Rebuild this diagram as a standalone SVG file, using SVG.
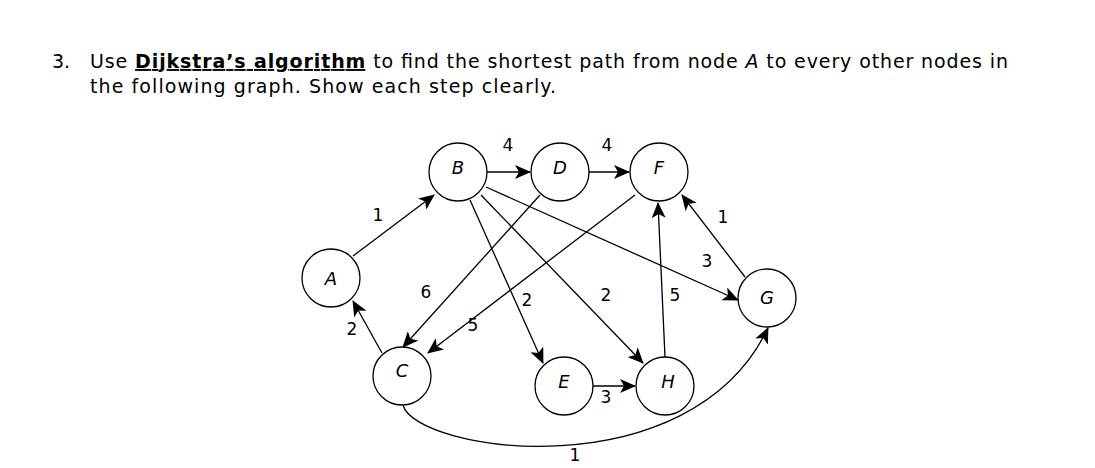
<svg xmlns="http://www.w3.org/2000/svg" width="1095" height="468" viewBox="0 0 1095 468">
<style>
.t{font-family:"DejaVu Sans",sans-serif;font-size:19px;fill:#000}
.n circle{fill:#fff;stroke:#000;stroke-width:1.3}
.n text{font-family:"DejaVu Sans",sans-serif;font-size:18px;font-style:italic;text-anchor:middle}
.e path{fill:none;stroke:#000;stroke-width:1.3;marker-end:url(#ar)}
.l{font-family:"DejaVu Sans",sans-serif;font-size:17px;text-anchor:middle}
</style>
<defs><marker id="ar" viewBox="0 0 16 14" refX="15" refY="7" markerWidth="16" markerHeight="14" markerUnits="userSpaceOnUse" orient="auto"><path d="M0,0 L16,7 L0,14 L4,7 Z" fill="#000"/></marker></defs>
<rect width="1095" height="468" fill="#fff"/>
<text class="t" x="52" y="68">3.</text>
<text class="t" x="90" y="68" textLength="918" lengthAdjust="spacing">Use <tspan font-weight="bold" text-decoration="underline">Dijkstra’s algorithm</tspan> to find the shortest path from node <tspan font-style="italic">A</tspan> to every other nodes in</text>
<text class="t" x="90" y="93" textLength="466" lengthAdjust="spacing">the following graph.  Show each step clearly.</text>
<g class="e">
<path d="M353,256 L434,195"/>
<path d="M382,353 L353,301"/>
<path d="M487,172 L530,172"/>
<path d="M589,172 L629,172"/>
<path d="M470,200 L543,363"/>
<path d="M481,195 L643,363"/>
<path d="M486,187 L738,300"/>
<path d="M540,195 L403,347"/>
<path d="M635,195 L428,353"/>
<path d="M665,357 L658,203"/>
<path d="M745,277 L682,195"/>
<path d="M593,386 L635,386"/>
<path d="M403,405 C415,452 690,492 768,328"/>
</g>
<g id="A" class="n"><circle cx="331" cy="278" r="29"/><text x="331" y="285">A</text></g>
<g id="B" class="n"><circle cx="458" cy="172" r="29"/><text x="458" y="174">B</text></g>
<g id="D" class="n"><circle cx="560" cy="172" r="29"/><text x="560" y="174">D</text></g>
<g id="F" class="n"><circle cx="659" cy="172" r="29"/><text x="659" y="174">F</text></g>
<g id="G" class="n"><circle cx="767" cy="298" r="29"/><text x="767" y="304">G</text></g>
<g id="C" class="n"><circle cx="402" cy="376" r="29"/><text x="402" y="377">C</text></g>
<g id="E" class="n"><circle cx="564" cy="386" r="29"/><text x="564" y="388">E</text></g>
<g id="H" class="n"><circle cx="665" cy="386" r="29"/><text x="668" y="388">H</text></g>
<g>
<text class="l" x="378" y="221">1</text>
<text class="l" x="508" y="151">4</text>
<text class="l" x="607" y="151">4</text>
<text class="l" x="426" y="298">6</text>
<text class="l" x="527" y="306">2</text>
<text class="l" x="606" y="301">2</text>
<text class="l" x="675" y="301">5</text>
<text class="l" x="707" y="267">3</text>
<text class="l" x="723" y="223">1</text>
<text class="l" x="352" y="335">2</text>
<text class="l" x="473" y="331">5</text>
<text class="l" x="606" y="403">3</text>
<text class="l" x="575" y="461">1</text>
</g>
</svg>
